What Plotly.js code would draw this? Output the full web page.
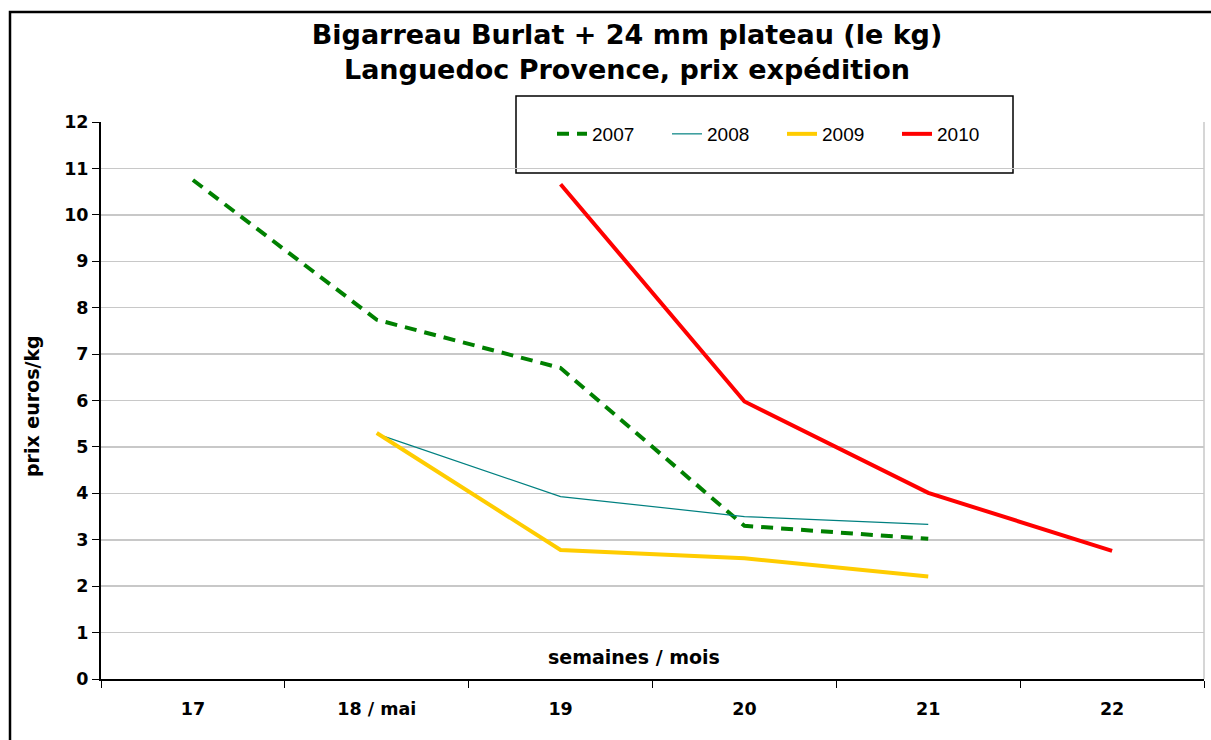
<!DOCTYPE html>
<html>
<head>
<meta charset="utf-8">
<script src="https://cdn.plot.ly/plotly-3.0.1.min.js"></script>
<style>html,body{margin:0;padding:0;background:#fff;}#chart{width:1211px;height:740px;}</style>
</head>
<body>
<div id="chart"></div>
<script>
const categories = ['17', '18 / mai', '19', '20', '21', '22'];
const weeks2007 = ['17', '18 / mai', '19', '20', '21'];
const prix2007 = [10.75, 7.74, 6.70, 3.30, 3.02];
const weeks2008 = ['18 / mai', '19', '20', '21'];
const prix2008 = [5.28, 3.93, 3.50, 3.33];
const weeks2009 = ['18 / mai', '19', '20', '21'];
const prix2009 = [5.30, 2.78, 2.60, 2.21];
const weeks2010 = ['19', '20', '21', '22'];
const prix2010 = [10.66, 5.98, 4.01, 2.76];

const L = 101, R = 1204, T = 122, B = 679;
const px = v => (v - L) / (R - L);
const py = v => (B - v) / (B - T);

const traces = [
  {x: weeks2007, y: prix2007, name: '2007', mode: 'lines', line: {color: '#008000', width: 4, dash: '12px,8px'}},
  {x: weeks2008, y: prix2008, name: '2008', mode: 'lines', line: {color: '#008080', width: 1.2}},
  {x: weeks2009, y: prix2009, name: '2009', mode: 'lines', line: {color: '#FFCC00', width: 4}},
  {x: weeks2010, y: prix2010, name: '2010', mode: 'lines', line: {color: '#FF0000', width: 4}}
];

const layout = {
  width: 1211, height: 740,
  margin: {l: L, r: 1211 - R, t: T, b: 740 - B},
  paper_bgcolor: '#fff', plot_bgcolor: '#fff',
  font: {family: 'DejaVu Sans', color: '#000'},
  title: {
    text: '<b>Bigarreau Burlat + 24 mm plateau (le kg)<br>Languedoc Provence, prix expédition</b>',
    font: {family: 'DejaVu Sans', size: 27, color: '#000'},
    x: px(627), xref: 'paper', xanchor: 'center', y: 1 - 44/740, yanchor: 'middle'
  },
  xaxis: {
    type: 'category', categoryorder: 'array', categoryarray: categories,
    range: [-0.5, 5.5], showgrid: false, zeroline: false,
    showline: true, linecolor: '#000', linewidth: 2,
    ticks: 'outside', tickson: 'boundaries', ticklen: 7, tickcolor: '#000', tickwidth: 1,
    tickfont: {family: 'DejaVu Sans', size: 17.5, color: '#000', weight: 'bold'},
    ticklabelstandoff: 13
  },
  yaxis: {
    range: [0, 12], dtick: 1, tick0: 0,
    showgrid: true, gridcolor: '#c8c8c8', gridwidth: 1.5, zeroline: false,
    showline: true, linecolor: '#000', linewidth: 2,
    ticks: 'outside', ticklen: 7, tickcolor: '#000',
    tickfont: {family: 'DejaVu Sans', size: 17.5, color: '#000', weight: 'bold'}
  },
  showlegend: true,
  legend: {
    orientation: 'h', x: px(552), xanchor: 'left', y: py(134), yanchor: 'middle',
    bgcolor: 'rgba(0,0,0,0)', borderwidth: 0,
    font: {family: 'Liberation Sans', size: 19, color: '#000'},
    entrywidth: 70, entrywidthmode: 'pixels', itemwidth: 30
  },
  annotations: [
    {text: '<b>semaines / mois</b>', xref: 'paper', yref: 'paper', x: px(634), y: py(657),
     xanchor: 'center', yanchor: 'middle', showarrow: false,
     font: {family: 'DejaVu Sans', size: 19, color: '#000'}},
    {text: '<b>prix euros/kg</b>', xref: 'paper', yref: 'paper', x: px(32), y: py(406),
     xanchor: 'center', yanchor: 'middle', showarrow: false, textangle: -90,
     font: {family: 'DejaVu Sans', size: 19, color: '#000'}}
  ],
  shapes: [
    {type: 'rect', xref: 'paper', yref: 'paper', x0: px(516), x1: px(1013), y0: py(173), y1: py(96),
     line: {color: '#000', width: 1.5}, fillcolor: '#fff', layer: 'below'},
    {type: 'line', xref: 'paper', yref: 'paper', x0: 1, x1: 1, y0: 0, y1: 1,
     line: {color: '#c8c8c8', width: 1.5}},
    {type: 'rect', xref: 'paper', yref: 'paper', x0: px(10), x1: px(1240), y0: py(780), y1: py(12),
     line: {color: '#000', width: 2.5}}
  ]
};

Plotly.newPlot('chart', traces, layout, {displayModeBar: false, staticPlot: true});
</script>
</body>
</html>
